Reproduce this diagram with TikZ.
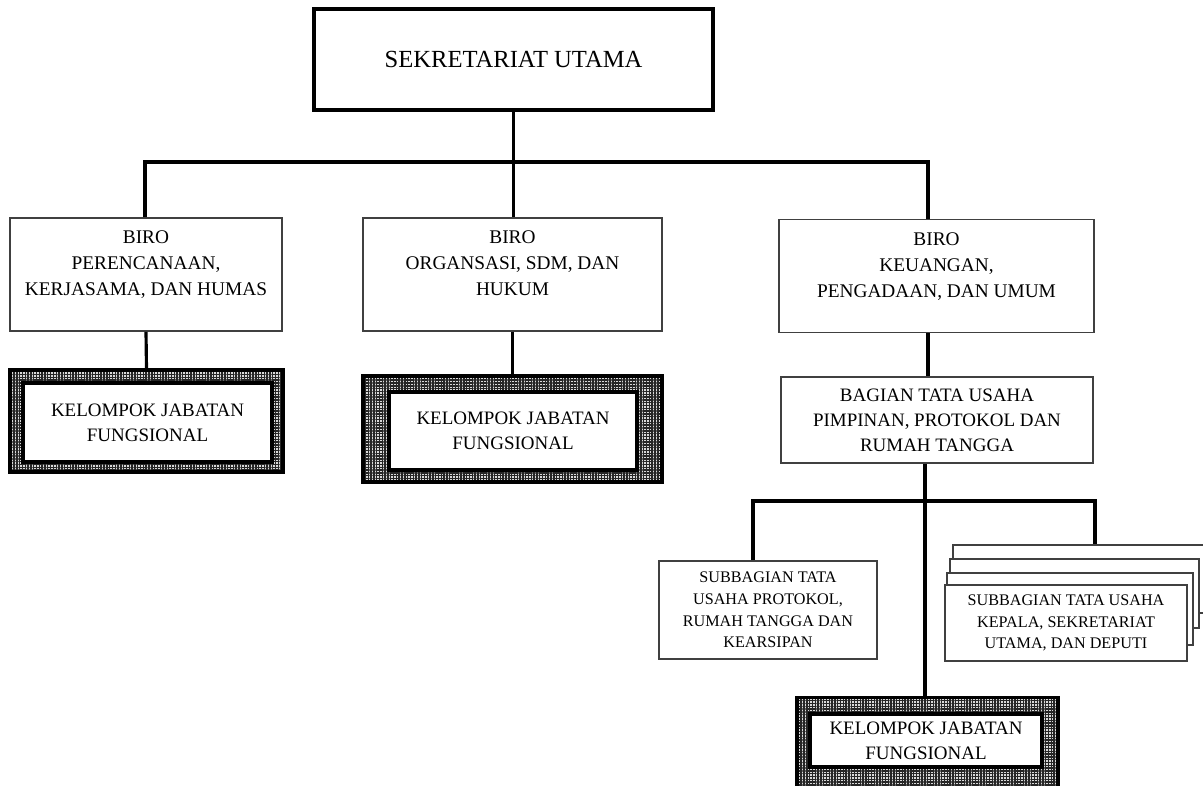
\documentclass[tikz,border=0pt]{standalone}
\usepackage{fontspec}
\setmainfont{Liberation Serif}
\usetikzlibrary{patterns.meta}

\begin{document}
\begin{tikzpicture}[x=0.02cm,y=-0.02cm,
  conn/.style={line width=1.8pt},
  kotak/.style={draw=black!75,line width=1pt,fill=white,align=center,inner sep=0pt},
  biro/.style={kotak,font=\fontsize{11}{14.8}\selectfont,text depth=0.44cm,minimum height=2.26cm},
  sub/.style={kotak,font=\fontsize{9.2}{12.3}\selectfont},
  kjfluar/.style={draw=black,line width=1.8pt,inner sep=0pt,
    preaction={fill=gray!30},
    preaction={pattern={Lines[distance=1.6pt,line width=0.8pt]},pattern color=black!85},
    preaction={pattern={Lines[angle=90,distance=1.6pt,line width=0.8pt]},pattern color=black!85}},
  kjfdalam/.style={draw=black,line width=2.2pt,fill=white,align=center,inner sep=0pt,
    font=\fontsize{10.8}{14.2}\selectfont}
]
\useasboundingbox (0,0) rectangle (1203,785);

%pimpinan
\node[draw,line width=1.8pt,minimum width=7.98cm,minimum height=2.02cm,
  font=\fontsize{14}{17}\selectfont] (sekut) at (513.5,59.5) {SEKRETARIAT UTAMA};

%biro
\node[biro,minimum width=5.44cm] (biroA) at (146,274.5) {BIRO\\PERENCANAAN,\\KERJASAMA, DAN HUMAS};
\node[biro,minimum width=5.98cm] (biroB) at (512.5,274.5) {BIRO\\ORGANSASI, SDM, DAN\\HUKUM};
\node[biro,minimum width=6.3cm] (biroC) at (936.5,276) {BIRO\\KEUANGAN,\\PENGADAAN, DAN UMUM};

%kelompok jabatan fungsional
\node[kjfluar,minimum width=5.46cm,minimum height=2.04cm] (kjfA) at (146.5,421) {};
\node[kjfdalam,minimum width=4.98cm,minimum height=1.58cm] (kjfAd) at (147.5,422.5) {KELOMPOK JABATAN\\FUNGSIONAL};
\node[kjfluar,minimum width=5.98cm,minimum height=2.12cm] (kjfB) at (512.5,429) {};
\node[kjfdalam,minimum width=4.96cm,minimum height=1.56cm] (kjfBd) at (513,431) {KELOMPOK JABATAN\\FUNGSIONAL};
\node[kjfluar,minimum width=5.22cm,minimum height=1.84cm] (kjfC) at (927.5,743.5) {};
\node[kjfdalam,minimum width=4.64cm,minimum height=1.06cm] (kjfCd) at (926,740.5) {KELOMPOK JABATAN\\FUNGSIONAL};

%bagian dan subbagian
\node[kotak,font=\fontsize{10.8}{14.2}\selectfont,minimum width=6.24cm,minimum height=1.72cm]
  (bagian) at (937,420) {BAGIAN TATA USAHA\\PIMPINAN, PROTOKOL DAN\\RUMAH TANGGA};
\node[sub,minimum width=4.36cm,minimum height=1.96cm] (subA) at (768,610)
  {SUBBAGIAN TATA\\USAHA PROTOKOL,\\RUMAH TANGGA DAN\\KEARSIPAN};
\node[kotak,minimum width=5.04cm,minimum height=1.36cm] (kartuA) at (1079,579) {};
\node[kotak,minimum width=4.98cm,minimum height=1.38cm] (kartuB) at (1074.5,593.5) {};
\node[kotak,minimum width=4.92cm,minimum height=1.44cm] (kartuC) at (1070,609) {};
\node[sub,minimum width=4.84cm,minimum height=1.52cm] (kartuD) at (1066,623)
  {SUBBAGIAN TATA USAHA\\KEPALA, SEKRETARIAT\\UTAMA, DAN DEPUTI};

%garis
\coordinate (tA) at (145,162);
\coordinate (tC) at (928,162);
\coordinate (bA) at (753,501);
\coordinate (bB) at (925,501);
\coordinate (bC) at (1095,501);
\draw[conn] (sekut.south) -- (sekut.south |- biroB.north);
\draw[conn] (tA |- biroA.north) -- (tA) -- (tC) -- (tC |- biroC.north);
\draw[conn] (biroA.south) -- (kjfA.north);
\draw[conn] (biroB.south) -- (kjfB.north);
\draw[conn] (tC |- biroC.south) -- (tC |- bagian.north);
\draw[conn] (bB |- bagian.south) -- (bB |- kjfC.north);
\draw[conn] (bA |- subA.north) -- (bA) -- (bC) -- (bC |- kartuA.north);
\end{tikzpicture}
\end{document}
